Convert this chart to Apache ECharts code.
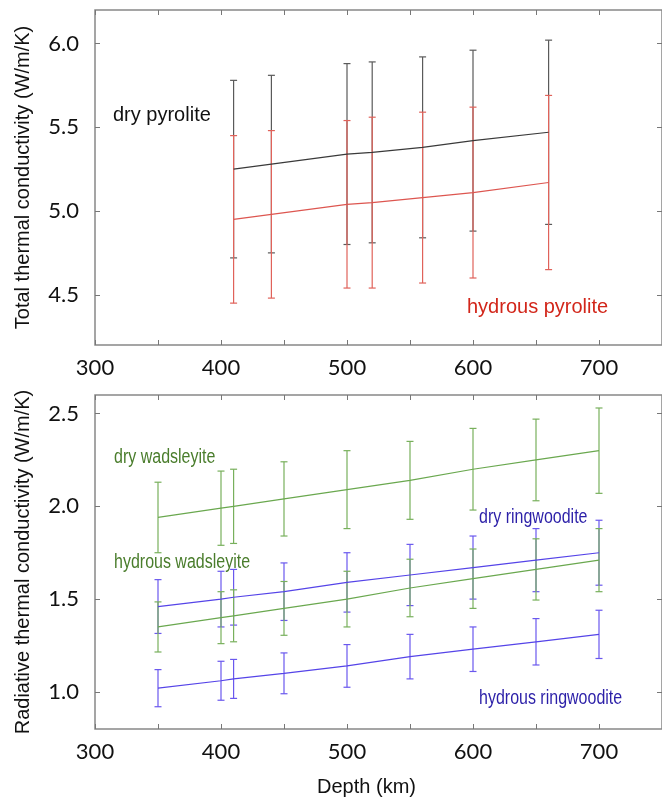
<!DOCTYPE html>
<html lang="en">

<head>
    <meta charset="UTF-8">
    <title>Thermal conductivity vs depth</title>
    <script src="https://cdn.jsdelivr.net/npm/echarts@6/dist/echarts.min.js"></script>
    <style>
        body { margin: 0; background: #fff; }
        #main { width: 662px; height: 799px; }
    </style>
</head>

<body>
    <div id="main"></div>
    <script>
        // depth (km)
        var pyroliteDepth = [410, 440, 500, 520, 560, 600, 660]
        var mineralDepth = [350, 400, 410, 450, 500, 550, 600, 650, 700]

        // total thermal conductivity (W/m/K) and error half-widths
        var dryPyrolite = [5.25, 5.28, 5.34, 5.35, 5.38, 5.42, 5.47]
        var dryPyroliteErr = [0.53, 0.53, 0.54, 0.54, 0.54, 0.54, 0.55]
        var hydrousPyrolite = [4.95, 4.98, 5.04, 5.05, 5.08, 5.11, 5.17]
        var hydrousPyroliteErr = [0.50, 0.50, 0.50, 0.51, 0.51, 0.51, 0.52]

        // radiative thermal conductivity (W/m/K)
        var dryWads = [1.94, 1.99, 2.00, 2.04, 2.09, 2.14, 2.20, 2.25, 2.30]
        var dryWadsErr = [0.19, 0.20, 0.20, 0.20, 0.21, 0.21, 0.22, 0.22, 0.23]
        var hydWads = [1.35, 1.40, 1.41, 1.45, 1.50, 1.56, 1.61, 1.66, 1.71]
        var hydWadsErr = [0.135, 0.14, 0.14, 0.145, 0.15, 0.155, 0.16, 0.165, 0.17]
        var dryRing = [1.46, 1.50, 1.51, 1.54, 1.59, 1.63, 1.67, 1.71, 1.75]
        var dryRingErr = [0.145, 0.15, 0.15, 0.155, 0.16, 0.165, 0.17, 0.17, 0.175]
        var hydRing = [1.02, 1.06, 1.07, 1.10, 1.14, 1.19, 1.23, 1.27, 1.31]
        var hydRingErr = [0.10, 0.105, 0.105, 0.11, 0.115, 0.12, 0.12, 0.125, 0.13]

        // tick labels
        var depthLabels = [300, 400, 500, 600, 700]
        var totalTicks = [4.5, 5.0, 5.5, 6.0]
        var radTicks = [1.0, 1.5, 2.0, 2.5]

        var mCharts = echarts.init(document.getElementById('main'))

        var tickFont = 'Lato, "Open Sans", sans-serif'
        var textFont = '"Liberation Sans", Arial, sans-serif'

        function pts(x, y) {
            return x.map(function(d, i) { return [d, y[i]] })
        }

        function bars(x, y, e) {
            return x.map(function(d, i) { return [d, y[i] - e[i], y[i] + e[i]] })
        }

        // error bar drawn through the axes of its grid
        function errorSeries(data, color, gi) {
            return {
                type: 'custom',
                xAxisIndex: gi * 2,
                yAxisIndex: gi * 2,
                data: data,
                z: 3,
                renderItem: function(params, api) {
                    var lo = api.coord([api.value(0), api.value(1)])
                    var hi = api.coord([api.value(0), api.value(2)])
                    var w = 3.5
                    var st = { stroke: color, lineWidth: 1.2 }
                    return {
                        type: 'group',
                        children: [
                            { type: 'line', shape: { x1: lo[0], y1: lo[1], x2: hi[0], y2: hi[1] }, style: st },
                            { type: 'line', shape: { x1: lo[0] - w, y1: lo[1], x2: lo[0] + w, y2: lo[1] }, style: st },
                            { type: 'line', shape: { x1: hi[0] - w, y1: hi[1], x2: hi[0] + w, y2: hi[1] }, style: st }
                        ]
                    }
                }
            }
        }

        function lineSeries(data, color, gi) {
            return {
                type: 'line',
                xAxisIndex: gi * 2,
                yAxisIndex: gi * 2,
                data: data,
                showSymbol: false,
                z: 4,
                lineStyle: { color: color, width: 1.2 }
            }
        }

        function xAxes(gi, withName) {
            var base = {
                type: 'value',
                gridIndex: gi,
                min: 300,
                max: 750,
                interval: 50,
                axisLine: { show: false },
                splitLine: { show: false },
                axisTick: { inside: true, length: 5, lineStyle: { color: '#777' } }
            }
            var bottom = Object.assign({}, base, {
                position: 'bottom',
                axisLabel: {
                    customValues: depthLabels,
                    margin: 12,
                    color: '#111',
                    fontSize: 22,
                    fontFamily: tickFont
                }
            })
            if (withName) {
                bottom.name = 'Depth (km)'
                bottom.nameLocation = 'middle'
                bottom.nameGap = 48
                bottom.nameTextStyle = { fontSize: 20, color: '#111', fontFamily: textFont, padding: [0, 24, 0, 0] }
            }
            var top = Object.assign({}, base, { position: 'top', axisLabel: { show: false } })
            return [bottom, top]
        }

        function yAxes(gi, min, max, ticks, name) {
            var base = {
                type: 'value',
                gridIndex: gi,
                min: min,
                max: max,
                axisLine: { show: false },
                splitLine: { show: false },
                axisTick: { inside: true, length: 5, customValues: ticks, lineStyle: { color: '#777' } }
            }
            var left = Object.assign({}, base, {
                position: 'left',
                name: name,
                nameLocation: 'middle',
                nameGap: 62,
                nameTextStyle: { fontSize: 20, color: '#111', fontFamily: textFont },
                axisLabel: {
                    customValues: ticks,
                    margin: 16,
                    color: '#111',
                    fontSize: 22,
                    fontFamily: tickFont,
                    formatter: function(v) { return v.toFixed(1) }
                }
            })
            var right = Object.assign({}, base, { position: 'right', axisLabel: { show: false } })
            return [left, right]
        }

        // narrow labels of the lower panel: squeeze the text sideways
        function note(text, x, y, color, sx) {
            return {
                type: 'text',
                x: x,
                y: y,
                scaleX: sx,
                style: { text: text, fill: color, font: '20px ' + textFont, verticalAlign: 'middle' }
            }
        }

        var option = {
            animation: false,
            backgroundColor: '#fff',
            grid: [
                { left: 95, top: 10, width: 568, height: 335, show: true, borderColor: '#888', borderWidth: 1.5 },
                { left: 95, top: 395, width: 568, height: 334, show: true, borderColor: '#888', borderWidth: 1.5 }
            ],
            xAxis: xAxes(0, false).concat(xAxes(1, true)),
            yAxis: yAxes(0, 4.2, 6.2, totalTicks, 'Total thermal conductivity (W/m/K)')
                .concat(yAxes(1, 0.8, 2.6, radTicks, 'Radiative thermal conductivity (W/m/K)')),
            series: [
                errorSeries(bars(pyroliteDepth, dryPyrolite, dryPyroliteErr), '#5a5a5a', 0),
                errorSeries(bars(pyroliteDepth, hydrousPyrolite, hydrousPyroliteErr), '#e0625a', 0),
                lineSeries(pts(pyroliteDepth, dryPyrolite), '#3a3a3a', 0),
                lineSeries(pts(pyroliteDepth, hydrousPyrolite), '#dd5650', 0),

                errorSeries(bars(mineralDepth, dryRing, dryRingErr), '#6a58ee', 1),
                errorSeries(bars(mineralDepth, hydRing, hydRingErr), '#6a58ee', 1),
                errorSeries(bars(mineralDepth, dryWads, dryWadsErr), '#78b05c', 1),
                errorSeries(bars(mineralDepth, hydWads, hydWadsErr), '#78b05c', 1),
                lineSeries(pts(mineralDepth, dryWads), '#6aa84f', 1),
                lineSeries(pts(mineralDepth, hydWads), '#6aa84f', 1),
                lineSeries(pts(mineralDepth, dryRing), '#5544e8', 1),
                lineSeries(pts(mineralDepth, hydRing), '#5544e8', 1)
            ],
            graphic: [
                note('dry pyrolite', 113, 115, '#111', 1),
                note('hydrous pyrolite', 467, 307, '#d2261a', 1),
                note('dry wadsleyite', 114, 457, '#4a7d2c', 0.8),
                note('hydrous wadsleyite', 114, 562, '#4a7d2c', 0.8),
                note('dry ringwoodite', 479, 517, '#2b1fa8', 0.8),
                note('hydrous ringwoodite', 479, 698, '#2b1fa8', 0.8)
            ]
        }
        mCharts.setOption(option)
    </script>
</body>

</html>
